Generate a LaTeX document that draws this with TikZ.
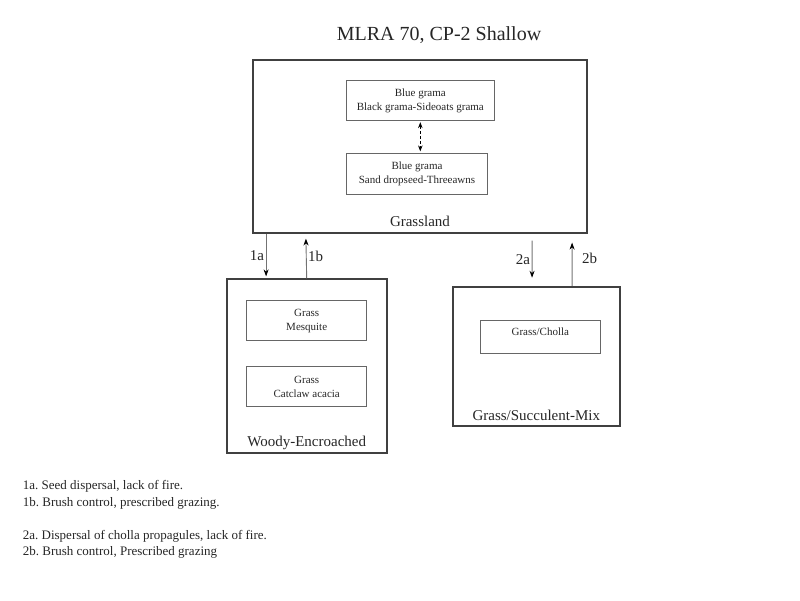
\documentclass[tikz,border=0pt]{standalone}
\usepackage{fontspec}
\setmainfont{Liberation Serif}
\usetikzlibrary{arrows.meta}
\frenchspacing

\begin{document}
\begin{tikzpicture}[x=1pt,y=-1pt,
  statebox/.style={draw=black!75,line width=1.8pt,inner sep=0pt},
  plantbox/.style={draw=black!60,line width=0.9pt,inner sep=0pt,align=center,text=black!85,font=\fontsize{11}{14}\selectfont},
  statename/.style={anchor=base,text=black!85,font=\fontsize{15}{18}\selectfont},
  trans/.style={draw=black!55,line width=0.9pt,-{Stealth[length=7pt,width=5pt,black]}},
  translabel/.style={text=black!85,inner sep=1.5pt,font=\fontsize{15}{18}\selectfont},
  note/.style={anchor=base west,inner sep=0pt,text=black!85,font=\fontsize{13}{16}\selectfont}]
\useasboundingbox (0,0) rectangle (800,600);

\node[anchor=base,text=black!85,font=\fontsize{20}{24}\selectfont] (title) at (439,40) {MLRA 70, CP-2 Shallow};

%--------------------------------- Grassland
\node[statebox,minimum width=333.4pt,minimum height=172.7pt] (grassland) at (420,146.3) {};
\node[plantbox,minimum width=147.3pt,minimum height=40pt] (blackgrama) at (420.3,100.7) {Blue grama\\Black grama-Sideoats grama};
\node[plantbox,minimum width=140.6pt,minimum height=40.7pt] (dropseed) at (417,173.7) {Blue grama\\Sand dropseed-Threeawns};
\draw[black,line width=0.8pt,dash pattern=on 3pt off 2pt,{Stealth[length=6pt,width=4.5pt]}-{Stealth[length=6pt,width=4.5pt]},shorten <=1pt,shorten >=1.5pt] (blackgrama.south) -- (blackgrama.south |- dropseed.north);
\node[statename] (grassname) at (420,226) {Grassland};

%--------------------------------- Woody-Encroached
\node[statebox,minimum width=160pt,minimum height=174pt] (woody) at (306.7,366.3) {};
\node[plantbox,minimum width=120pt,minimum height=40pt] (mesquite) at (306.7,320.7) {Grass\\Mesquite};
\node[plantbox,minimum width=120pt,minimum height=40pt] (catclaw) at (306.7,386.7) {Grass\\Catclaw acacia};
\node[statename] (woodyname) at (306.7,446) {Woody-Encroached};

%--------------------------------- Grass/Succulent-Mix
\node[statebox,minimum width=167.3pt,minimum height=139.3pt] (succulent) at (536.3,356.3) {};
\node[plantbox,minimum width=120.7pt,minimum height=32.6pt] (cholla) at (540.3,337) {};
\node[plantbox,draw=none] (chollatext) at (540.3,331.5) {Grass/Cholla};
\node[statename] (succname) at (536.3,420) {Grass/Succulent-Mix};

%--------------------------------- transitions
\draw[trans,shorten >=2pt] ([xshift=13.7pt]grassland.south west) -- ([xshift=40.3pt]woody.north west) node[translabel,midway,left] (t1a) {1a};
\draw[trans,shorten >=5pt] (woody.north) -- ([xshift=53.4pt]grassland.south west) node[translabel,midway,right] (t1b) {1b};
\draw[trans,shorten <=7pt,shorten >=8pt] ([xshift=279.7pt]grassland.south west) -- ([xshift=80.3pt]succulent.north west) node[translabel,midway,left] (t2a) {2a};
\draw[trans,shorten >=9pt] ([xshift=120.3pt]succulent.north west) -- ([xshift=319.7pt]grassland.south west) node[translabel,pos=0.52,right,xshift=8pt] (t2b) {2b};

%--------------------------------- notes
\node[note] (n1a) at (22.7,489.5) {1a. Seed dispersal, lack of fire.};
\node[note] (n1b) at (22.7,506) {1b. Brush control, prescribed grazing.};
\node[note] (n2a) at (22.7,539) {2a. Dispersal of cholla propagules, lack of fire.};
\node[note] (n2b) at (22.7,555) {2b. Brush control, Prescribed grazing};

\end{tikzpicture}
\end{document}
